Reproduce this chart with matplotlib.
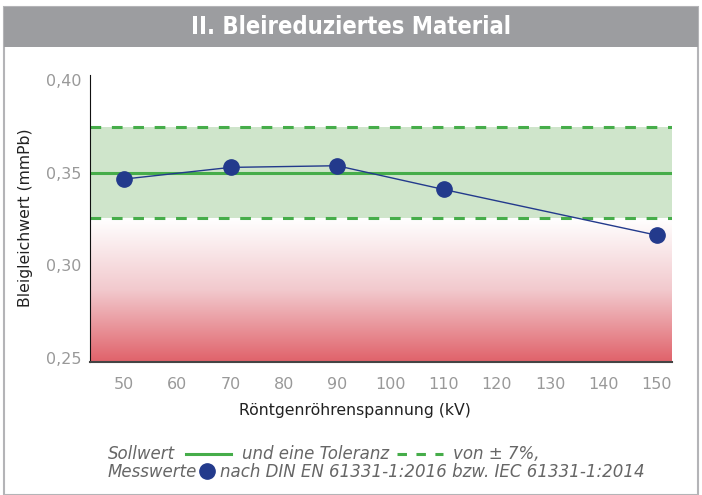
import matplotlib.pyplot as plt
import numpy as np
from matplotlib.colors import LinearSegmentedColormap
from matplotlib.patches import Rectangle

# Messdaten
spannung = [50, 70, 90, 110, 150]
bleiwert = [0.3466, 0.3529, 0.3538, 0.3410, 0.3163]
sollwert = 0.35
toleranz = 0.07
x_ticks = [50, 60, 70, 80, 90, 100, 110, 120, 130, 140, 150]
y_ticks = [0.25, 0.30, 0.35, 0.40]
y_ticklabels = ['0,25', '0,30', '0,35', '0,40']

W, H = 702, 495
fig = plt.figure(figsize=(W / 100, H / 100), dpi=100)

def fx(px):
    return px / W

def fy(py):
    return 1 - py / H

# Rahmen und Titelbalken
fig.patches.append(Rectangle((fx(4), fy(495)), fx(694), fy(7) - fy(495), transform=fig.transFigure,
                             facecolor='white', edgecolor='#b4b4b7', linewidth=1.5, zorder=-2))
fig.patches.append(Rectangle((fx(4), fy(47)), fx(694), fy(7) - fy(47), transform=fig.transFigure,
                             facecolor='#9c9da0', edgecolor='none', zorder=-1))
fig.text(fx(351), fy(27), 'II. Bleireduziertes Material', ha='center', va='center',
         color='white', fontsize=17, fontweight='bold', fontstretch='condensed')

ax = fig.add_axes([fx(90), fy(362), fx(672 - 90), fy(75) - fy(362)])
ax.set_zorder(1)
xlim = (43.6, 152.9)
ylim = (0.2478, 0.4028)
ax.set_xlim(xlim)
ax.set_ylim(ylim)

unten = sollwert * (1 - toleranz)
oben = sollwert * (1 + toleranz)

# Toleranzband und roter Verlauf
ax.axhspan(unten, oben, color='#cfe5cb', zorder=1, linewidth=0)
cmap = LinearSegmentedColormap.from_list('rot', ['#e0626a', '#f2c9cd', '#ffffff'])
grad = np.linspace(0, 1, 256).reshape(-1, 1)
ax.imshow(grad, extent=[xlim[0], xlim[1], ylim[0], unten], origin='lower', aspect='auto',
          cmap=cmap, zorder=1)

ax.axhline(sollwert, color='#46ad4a', linewidth=2.2, zorder=2)
ax.axhline(oben, color='#46ad4a', linewidth=2.2, linestyle=(0, (3.5, 3.5)), zorder=2)
ax.axhline(unten, color='#46ad4a', linewidth=2.2, linestyle=(0, (3.5, 3.5)), zorder=2)

ax.plot(spannung, bleiwert, color='#233a8c', linewidth=1, marker='o', markersize=11, zorder=3)

ax.set_xticks(x_ticks)
ax.set_yticks(y_ticks)
ax.set_yticklabels(y_ticklabels)
ax.tick_params(length=0, colors='#999999', labelsize=11.5)
ax.tick_params(axis='x', pad=11)
ax.tick_params(axis='y', pad=6)
for s in ['top', 'right']:
    ax.spines[s].set_visible(False)
ax.spines['left'].set_color('#111111')
ax.spines['bottom'].set_color('#444444')
ax.spines['bottom'].set_linewidth(1.5)

fig.text(fx(26), fy(218), 'Bleigleichwert (mmPb)', rotation=90, ha='center', va='center',
         color='#222222', fontsize=11.3)
fig.text(fx(355), fy(410), 'Röntgenröhrenspannung (kV)', ha='center', va='center',
         color='#222222', fontsize=11.3)

# Legende als Text mit Symbolen
lc = '#666666'
ls = dict(fontsize=12, style='italic', color=lc, va='center')
fig.text(fx(108), fy(454), 'Sollwert', **ls)
fig.add_artist(plt.Line2D([fx(186), fx(231)], [fy(454), fy(454)], color='#46ad4a', linewidth=2.2))
fig.text(fx(242), fy(454), 'und eine Toleranz', **ls)
fig.add_artist(plt.Line2D([fx(397), fx(443)], [fy(454), fy(454)], color='#46ad4a', linewidth=2.2,
                          linestyle=(0, (3.1, 3.1))))
fig.text(fx(453), fy(454), 'von ± 7%,', **ls)
fig.text(fx(108), fy(472), 'Messwerte', **ls)
fig.add_artist(plt.Line2D([fx(206.5)], [fy(471)], color='#233a8c', marker='o', markersize=11,
                          linestyle='none'))
fig.text(fx(220), fy(472), 'nach DIN EN 61331-1:2016 bzw. IEC 61331-1:2014', **ls)

fig.savefig('out.png', dpi=100)
